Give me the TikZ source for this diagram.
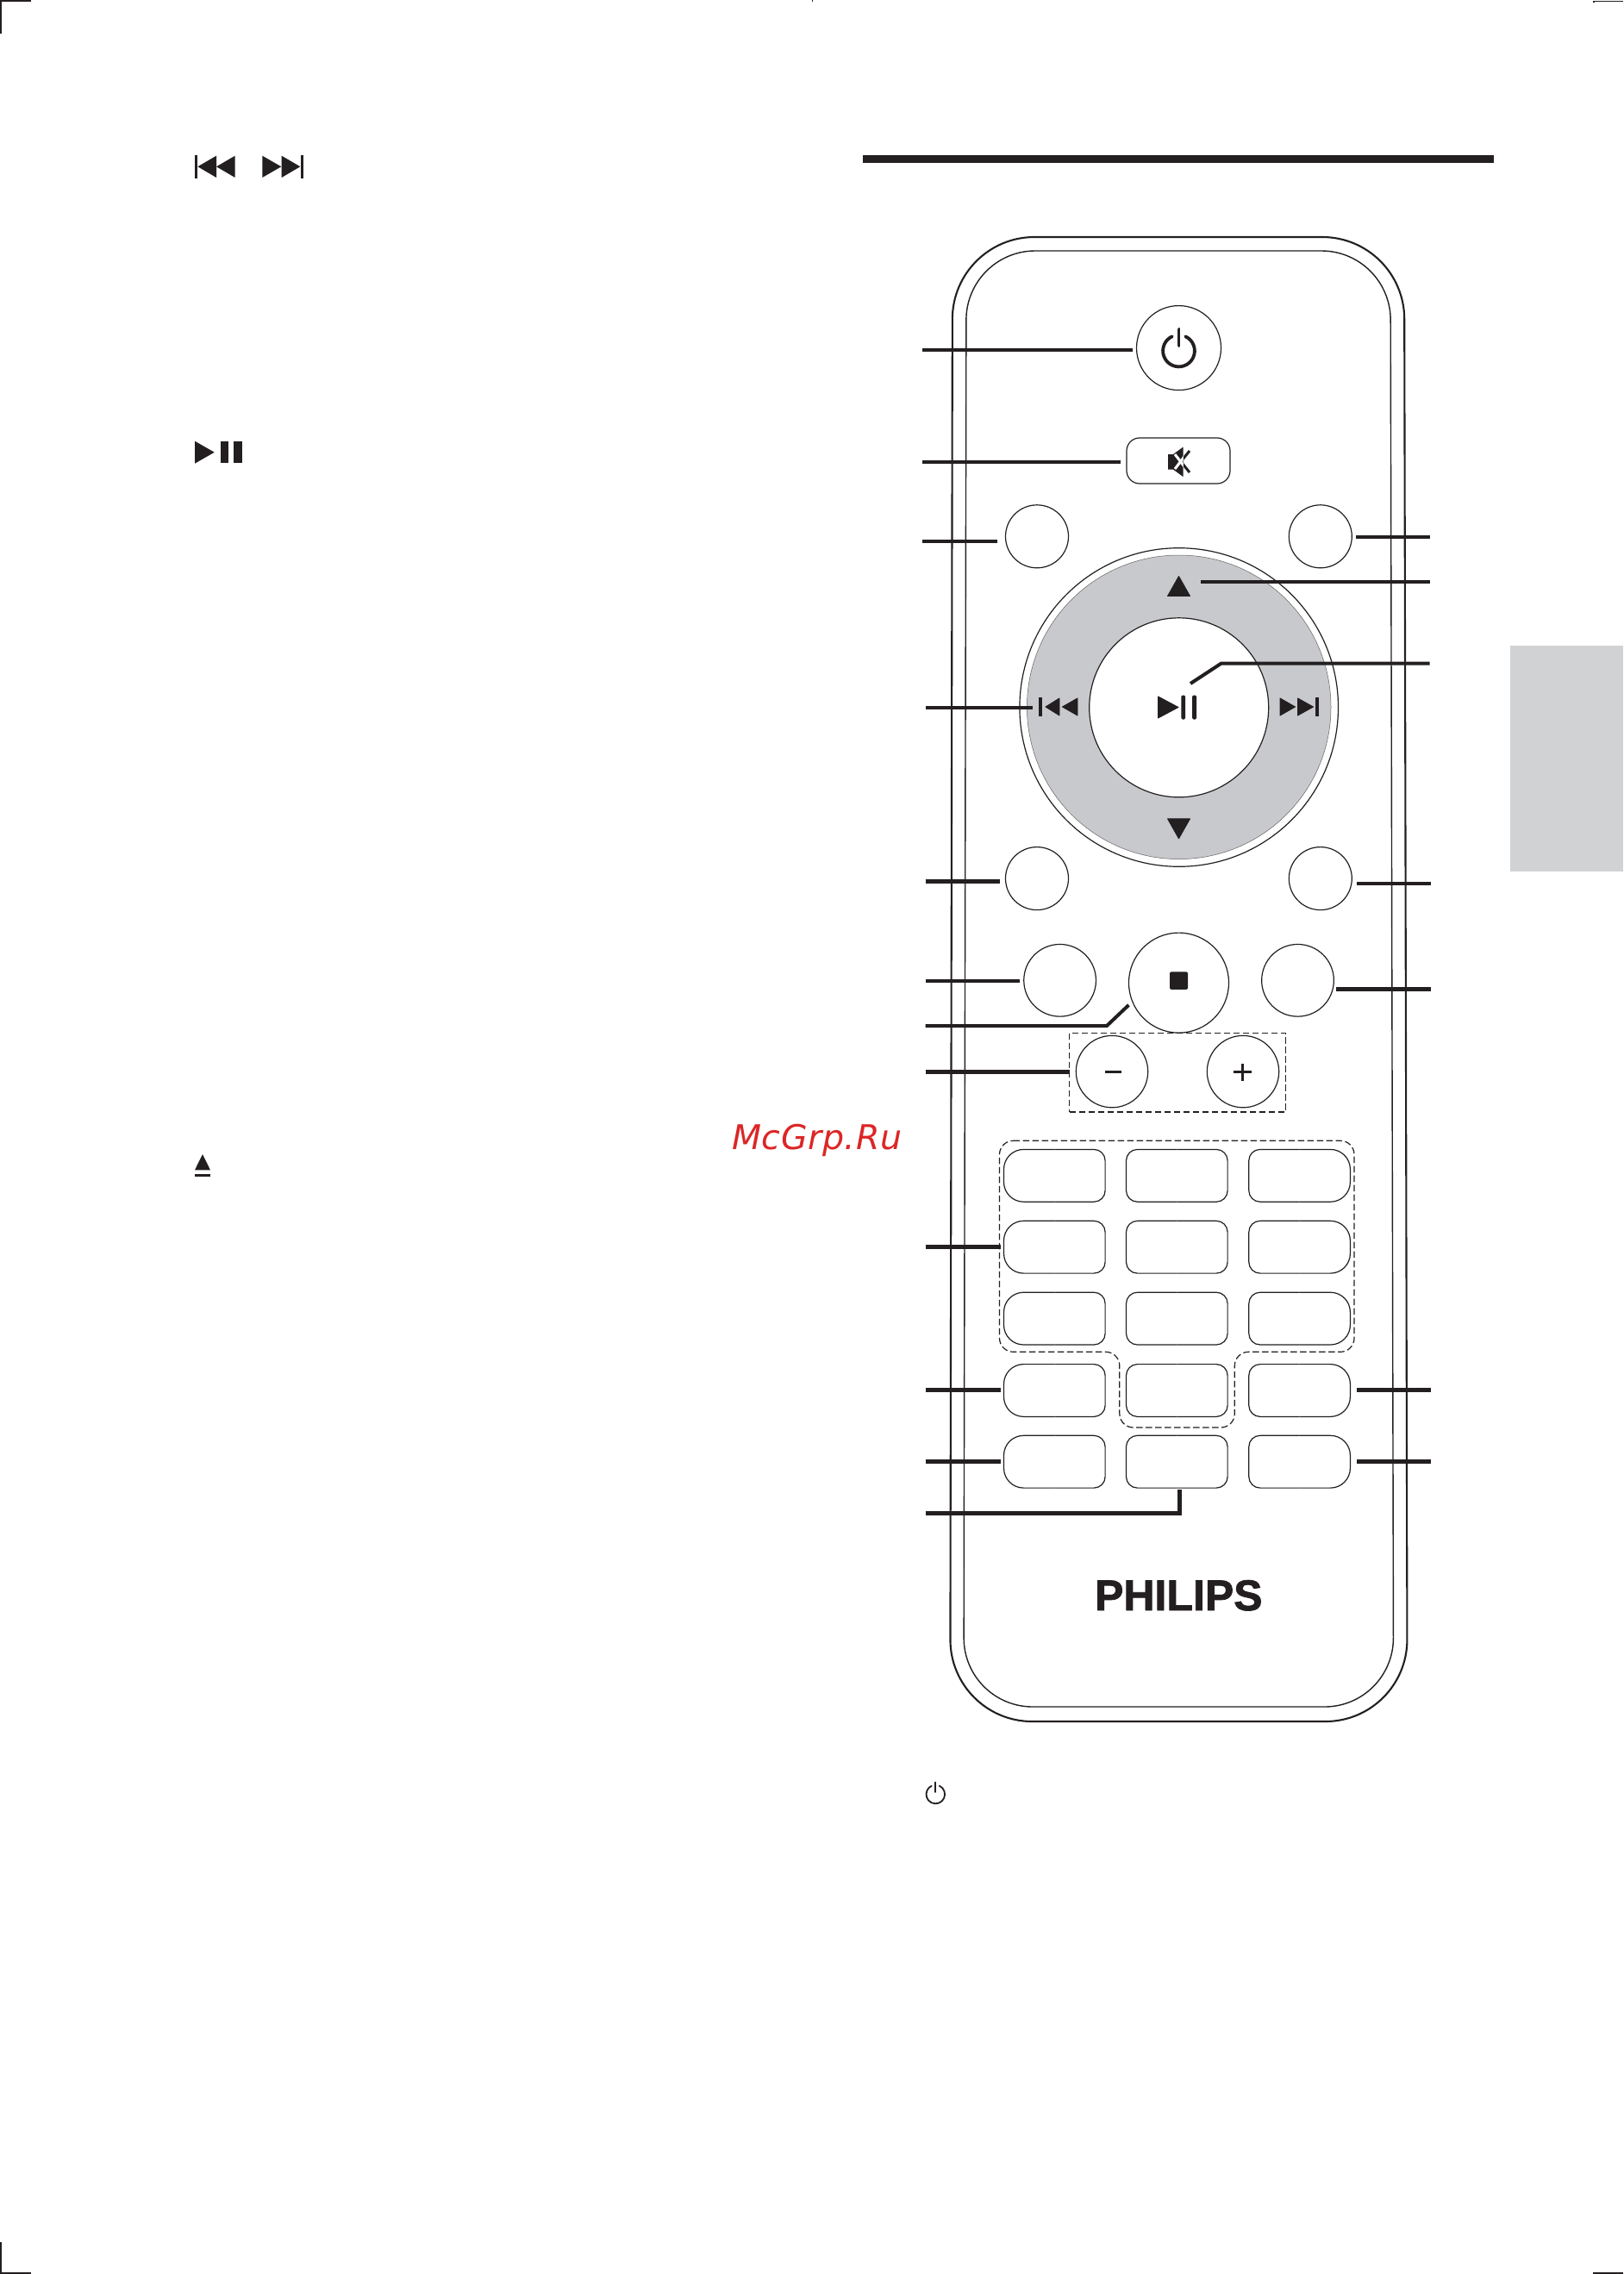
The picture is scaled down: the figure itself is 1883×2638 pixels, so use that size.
\documentclass[tikz,border=0pt]{standalone}
\usepackage{fontspec}
\setmainfont{Liberation Sans}
\newfontfamily\wmfont{DejaVu Sans}[LetterSpace=1.5]
\newfontfamily\logofont{Liberation Sans Bold}[FakeBold=1.6]
\definecolor{ink}{HTML}{231F20}
\definecolor{ringgray}{HTML}{C8C9CC}
\definecolor{tabgray}{HTML}{D1D2D4}
\definecolor{wmred}{HTML}{DC2626}
\tikzset{
  body/.style={draw=ink,line width=2.1pt},
  bodyin/.style={draw=ink,line width=1.4pt},
  roundkey/.style={circle,draw=ink,line width=1.2pt,inner sep=0pt,outer sep=0pt,fill=white},
  padkey/.style={rectangle,inner sep=0pt,outer sep=0pt,minimum width=117.6pt,minimum height=60.8pt},
  padline/.style={draw=ink,line width=1.2pt},
  leader/.style={draw=ink,line width=4pt,line cap=butt,miter limit=10},
  leaderb/.style={draw=ink,line width=5pt,line cap=butt,miter limit=10},
  grouped/.style={draw=ink,line width=1.2pt,dash pattern=on 7.5pt off 3.5pt},
  glyph/.style={fill=ink,draw=ink,line width=0.9pt,line join=round},
  crop/.style={draw=ink,line width=1.6pt}
}
\newcommand{\keybtn}[5]{%
  \node[padkey] (#1) at (#2,#3) {};
  \draw[padline,rounded corners=#4pt] (#1.north) -- (#1.north west) -- (#1.south west) -- (#1.south);
  \draw[padline,rounded corners=#5pt] (#1.north) -- (#1.north east) -- (#1.south east) -- (#1.south);
}
\newcommand{\powersign}[6]{% cx cy r top bottom lw
  \begin{scope}[shift={(#1,#2)},x=1pt,y=1pt]
    \draw[ink,line width=#6pt,line cap=round] (65:#3) arc[start angle=65,end angle=-245,radius=#3pt];
  \end{scope}
  \draw[ink,line width=#6pt,line cap=round] (#1,#4) -- (#1,#5);
}
\begin{document}
\begin{tikzpicture}[x=1pt,y=-1pt]
\useasboundingbox (0,0) rectangle (1883,2638);
\fill[white] (0,0) rectangle (1883,2638);
% page furniture
\fill[ink] (1001,180) rectangle (1733,189);
\fill[tabgray] (1752,749) rectangle (1883,1011);
\draw[crop] (36,1) -- (1,1) -- (1,39);
\draw[crop] (942.6,0) -- (942.6,2.5);
\draw[crop] (1883,1.5) -- (1849,1.5) -- (1849,3);
\draw[crop] (1,2601) -- (1,2637) -- (36,2637);
\draw[crop] (1848,2637) -- (1883,2637);
% text-column icons
\fill[ink] (226,180) rectangle (229,206.7);
\fill[ink] (251,180.7) -- (251,206) -- (229.4,193.3) -- cycle;
\fill[ink] (272.7,180.7) -- (272.7,206) -- (251,193.3) -- cycle;
\fill[ink] (304.3,180.7) -- (304.3,206) -- (326.3,193.3) -- cycle;
\fill[ink] (326.7,180.7) -- (326.7,206) -- (348.3,193.3) -- cycle;
\fill[ink] (349,180) rectangle (352,206.7);
\fill[ink] (226,511.7) -- (226,537.7) -- (248.7,524.7) -- cycle;
\fill[ink] (255.7,512.3) rectangle (265,536.7);
\fill[ink] (271.3,512.3) rectangle (280.7,536.7);
\fill[ink] (226,1357.3) -- (235,1339) -- (244,1357.3) -- cycle;
\fill[ink] (226,1362.3) rectangle (244.3,1365.3);
\powersign{1085.3}{2081.5}{10.8}{2067.5}{2079}{1.8}
% watermark
\node[anchor=base west,inner sep=0pt,text=wmred] (wm) at (849,1333)
  {\wmfont\itshape\fontsize{39.5}{40}\selectfont McGrp.Ru};
% remote body
\draw[body,rounded corners=95pt] (1105,275) -- (1629,275) -- (1632.6,1997) -- (1102.3,1997) -- cycle;
\draw[bodyin,rounded corners=80pt] (1121,291) -- (1613,291) -- (1616.6,1980) -- (1118,1980) -- cycle;
% top keys
\node[roundkey,minimum size=98pt] (power) at (1367.5,403.6) {};
\powersign{1367.5}{407}{18.4}{381.9}{401}{3.8}
\node[rectangle,draw=ink,line width=1.2pt,rounded corners=15pt,inner sep=0pt,outer sep=0pt,minimum width=120pt,minimum height=53pt] (mute) at (1367,534.5) {};
\fill[ink] (1355,527) -- (1361,527) -- (1372.5,518.6) -- (1372.5,553) -- (1361,544.6) -- (1355,544.6) -- cycle;
\draw[white,line width=3pt] (1363,527) -- (1376,544) (1363,544) -- (1376,527);
\begin{scope}
  \clip (1372.8,515) rectangle (1385,556);
  \draw[ink,line width=3pt] (1363,527) -- (1380,548) (1363,544) -- (1380,523);
\end{scope}
\node[roundkey,minimum size=73pt] (kA) at (1203,622.3) {};
\node[roundkey,minimum size=73pt] (kB) at (1531.8,622.3) {};
% navigation ring
\node[roundkey,minimum size=369.6pt] (ringout) at (1367.7,820.5) {};
\node[circle,draw=ink!70,line width=.5pt,fill=ringgray,inner sep=0pt,outer sep=0pt,minimum size=352.6pt] (ringgr) at (1367.7,820.3) {};
\node[roundkey,minimum size=208pt] (okkey) at (1367.7,820.8) {};
\fill[glyph] (1354.5,691.5) -- (1367.5,668.5) -- (1380.5,691.5) -- cycle;
\fill[glyph] (1354.5,949.8) -- (1380.5,949.8) -- (1367.5,972.8) -- cycle;
\fill[ink] (1205,809) rectangle (1208.8,831);
\fill[glyph] (1229,810) -- (1229,830) -- (1213,820) -- cycle;
\fill[glyph] (1250,810) -- (1250,830) -- (1232.5,820) -- cycle;
\fill[glyph] (1485,810) -- (1485,830) -- (1502.5,820) -- cycle;
\fill[glyph] (1505.5,810) -- (1505.5,830) -- (1523.5,820) -- cycle;
\fill[ink] (1526,809) rectangle (1530,831);
\fill[glyph] (1343.5,808) -- (1343.5,833) -- (1367,820.5) -- cycle;
\fill[ink,rounded corners=1.5pt] (1370.4,806.5) rectangle (1375,834.5);
\fill[ink,rounded corners=1.5pt] (1383,806.5) rectangle (1388,834.5);
% lower round keys
\node[roundkey,minimum size=73pt] (kC) at (1203,1019.1) {};
\node[roundkey,minimum size=73pt] (kD) at (1531.8,1019.1) {};
\node[roundkey,minimum size=83.7pt] (kE) at (1229.6,1137.3) {};
\node[roundkey,minimum size=116pt] (stopkey) at (1367.5,1140.1) {};
\node[roundkey,minimum size=83.7pt] (kF) at (1505.5,1137.3) {};
\node[rectangle,fill=ink,rounded corners=2pt,inner sep=0pt,minimum width=21pt,minimum height=20.6pt] (stopsq) at (1367.5,1137.6) {};
% volume
\node[rectangle,grouped,inner sep=0pt,outer sep=0pt,minimum width=250.8pt,minimum height=91.7pt] (volbox) at (1366.2,1244.1) {};
\node[roundkey,minimum size=83.4pt] (minuskey) at (1290,1243.1) {};
\node[roundkey,minimum size=83.4pt] (pluskey) at (1442,1243.1) {};
\fill[ink] (1281.6,1241.9) rectangle (1301,1244.9);
\fill[ink] (1431.4,1242.3) rectangle (1451.6,1245.3);
\fill[ink] (1439.9,1233.8) rectangle (1443.1,1253.8);
% key pad
\keybtn{p11}{1223.3}{1363.8}{23}{13}
\keybtn{p12}{1365.3}{1363.8}{13}{13}
\keybtn{p13}{1507.6}{1363.8}{13}{23}
\keybtn{p21}{1223.3}{1446.7}{23}{13}
\keybtn{p22}{1365.3}{1446.7}{13}{13}
\keybtn{p23}{1507.6}{1446.7}{13}{23}
\keybtn{p31}{1223.3}{1529.6}{23}{13}
\keybtn{p32}{1365.3}{1529.6}{13}{13}
\keybtn{p33}{1507.6}{1529.6}{13}{23}
\keybtn{p41}{1223.3}{1613}{23}{13}
\keybtn{p42}{1365.3}{1613}{13}{13}
\keybtn{p43}{1507.6}{1613}{13}{23}
\keybtn{p51}{1223.3}{1695.7}{23}{13}
\keybtn{p52}{1365.3}{1695.7}{13}{13}
\keybtn{p53}{1507.6}{1695.7}{13}{23}
\draw[grouped,rounded corners=16pt] (1159.5,1323.3) -- (1571,1323.3) -- (1571,1568.3) -- (1432.3,1568.3) -- (1432.3,1656) -- (1298.8,1656) -- (1298.8,1568.3) -- (1159.5,1568.3) -- cycle;
% logo
\node[anchor=base,inner sep=0pt,text=ink] (logo) at (1367.3,1868)
  {\logofont\fontsize{50}{50}\selectfont PHILIPS};
% connector free ends
\coordinate (a1) at (1069.5,406.4);
\coordinate (a2) at (1069.5,535.7);
\coordinate (a3) at (1069.5,627.9);
\coordinate (a4) at (1073.7,820.7);
\coordinate (a5) at (1073.7,1022.4);
\coordinate (a6) at (1073.7,1138);
\coordinate (a7) at (1073.7,1190);
\coordinate (a8) at (1073.7,1243.3);
\coordinate (a9) at (1073.7,1446.7);
\coordinate (a10) at (1073.7,1612.6);
\coordinate (a11) at (1073.7,1695.7);
\coordinate (a12) at (1073.7,1755);
\coordinate (b1) at (1658.7,622.9);
\coordinate (b2) at (1658.7,675);
\coordinate (b3) at (1658.7,769.6);
\coordinate (b4) at (1660,1025);
\coordinate (b5) at (1660,1147.4);
\coordinate (b6) at (1660,1612.6);
\coordinate (b7) at (1660,1695.7);
\coordinate (uptip) at (1392.7,675);
\coordinate (playtip) at (1381,793);
\coordinate (playknee) at (1416.7,769.6);
\coordinate (prevtip) at (1197.8,820.7);
\coordinate (stoptip) at (1309.4,1165.9);
\coordinate (stopknee) at (1284,1190);
\coordinate (padedge) at (1160.5,1446.7);
\coordinate (bknee) at (1368.3,1755);
% connectors
\draw[leader,shorten >=4.4pt] (a1) -- (a1 -| power.west);
\draw[leader,shorten >=7pt] (a2) -- (a2 -| mute.west);
\draw[leader,shorten >=9.7pt] (a3) -- (a3 -| kA.west);
\draw[leader] (a4) -- (prevtip);
\draw[leaderb,shorten >=6.5pt] (a5) -- (a5 -| kC.west);
\draw[leader,shorten >=4.7pt] (a6) -- (a6 -| kE.west);
\draw[leader] (a7) -- (stopknee) -- (stoptip);
\draw[leaderb] (a8) -- (a8 -| volbox.west);
\draw[leaderb] (a9) -- (padedge);
\draw[leaderb,shorten >=3.8pt] (a10) -- (a10 -| p41.west);
\draw[leaderb,shorten >=3.8pt] (a11) -- (a11 -| p51.west);
\draw[leaderb,shorten >=2.2pt] (a12) -- (bknee) -- (bknee |- p52.south);
\draw[leader,shorten >=4.2pt] (b1) -- (b1 -| kB.east);
\draw[leader] (b2) -- (uptip);
\draw[leader] (b3) -- (playknee) -- (playtip);
\draw[leader,shorten >=5.8pt] (b4) -- (b4 -| kD.east);
\draw[leaderb,shorten >=2.7pt] (b5) -- (b5 -| kF.east);
\draw[leaderb,shorten >=7.5pt] (b6) -- (b6 -| p43.east);
\draw[leaderb,shorten >=7.5pt] (b7) -- (b7 -| p53.east);
\end{tikzpicture}
\end{document}
